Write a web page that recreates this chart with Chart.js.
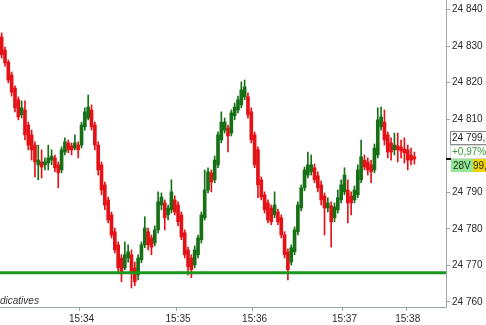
<!DOCTYPE html>
<html>
<head>
<meta charset="utf-8">
<script src="https://cdn.jsdelivr.net/npm/chart.js@4.4.0/dist/chart.umd.min.js"></script>
<style>
  html, body { margin: 0; padding: 0; background: #fff; }
  #wrap { width: 486px; height: 325px; }
</style>
</head>
<body>
<div id="wrap"><canvas id="candleChart" width="486" height="325"></canvas></div>
<script>
// Bougies (open, high, low, close)
const openP = [
  24832.5, 24828.9, 24825.6, 24822.1, 24818.5, 24815.3, 24811.2, 24812.5, 24808.4, 24805.7,
  24802.9, 24797.5, 24798.3, 24797.5, 24798.0, 24798.8, 24799.4, 24797.5, 24796.1, 24801.0,
  24803.5, 24802.7, 24802.1, 24802.9, 24802.9, 24807.9, 24810.3, 24812.5, 24808.4, 24802.9,
  24797.5, 24792.0, 24787.9, 24783.8, 24779.2, 24775.6, 24772.0, 24769.3, 24772.0, 24772.9,
  24769.3, 24767.4, 24771.5, 24775.6, 24779.2, 24777.5, 24776.1, 24779.7, 24786.5, 24787.1,
  24783.8, 24785.2, 24787.9, 24786.5, 24783.8, 24778.9, 24774.2, 24772.0, 24770.1, 24772.9,
  24777.0, 24783.0, 24790.6, 24795.3, 24793.4, 24797.5, 24804.3, 24807.0, 24807.6, 24806.2,
  24810.9, 24812.5, 24813.9, 24816.1, 24816.1, 24812.0, 24805.7, 24801.6, 24793.4, 24789.3,
  24787.1, 24785.7, 24783.8, 24784.6, 24783.0, 24778.3, 24773.7, 24770.9, 24773.7, 24779.2,
  24785.7, 24791.2, 24794.7, 24795.6, 24796.7, 24794.5, 24792.0, 24789.0, 24785.7, 24786.3,
  24783.0, 24785.2, 24787.9, 24790.1, 24790.6, 24789.0, 24787.9, 24789.3, 24793.4, 24798.8,
  24798.3, 24797.5, 24796.1, 24800.2, 24807.9, 24809.2, 24805.7, 24803.5, 24801.6, 24802.7,
  24802.4, 24801.8, 24801.6, 24800.2, 24799.7
];
const highP = [
  24833.6, 24829.7, 24826.2, 24822.9, 24819.1, 24816.1, 24815.0, 24815.0, 24809.2, 24807.0,
  24803.8, 24802.9, 24801.6, 24799.4, 24802.9, 24801.6, 24800.2, 24798.3, 24802.4, 24804.9,
  24804.3, 24803.5, 24805.7, 24803.8, 24809.2, 24813.1, 24816.6, 24813.9, 24809.2, 24803.8,
  24798.3, 24792.8, 24788.7, 24784.6, 24780.2, 24776.4, 24772.9, 24776.4, 24775.6, 24774.2,
  24770.9, 24772.9, 24776.4, 24783.3, 24780.2, 24778.3, 24780.8, 24790.1, 24789.8, 24787.9,
  24786.5, 24793.4, 24789.0, 24787.4, 24784.6, 24779.7, 24775.0, 24772.9, 24775.3, 24778.3,
  24784.6, 24796.1, 24796.7, 24796.1, 24799.9, 24806.5, 24812.0, 24810.3, 24808.4, 24812.5,
  24814.4, 24816.3, 24820.2, 24820.7, 24817.2, 24813.1, 24806.5, 24802.4, 24794.2, 24790.1,
  24787.9, 24786.5, 24790.1, 24785.4, 24783.8, 24779.2, 24774.5, 24775.6, 24780.5, 24787.4,
  24792.0, 24796.9, 24801.0, 24800.2, 24797.7, 24795.6, 24793.1, 24789.8, 24788.5, 24787.4,
  24787.1, 24790.6, 24793.4, 24796.7, 24793.4, 24790.1, 24791.7, 24797.5, 24804.3, 24800.2,
  24799.4, 24798.8, 24803.2, 24813.1, 24813.3, 24812.5, 24806.5, 24804.9, 24806.2, 24806.2,
  24804.3, 24804.9, 24802.9, 24802.1, 24801.0
];
const lowP = [
  24826.7, 24824.5, 24819.9, 24816.3, 24812.0, 24809.8, 24810.3, 24804.3, 24801.6, 24798.8,
  24794.2, 24793.4, 24793.9, 24796.1, 24796.1, 24797.5, 24795.6, 24791.2, 24795.3, 24800.2,
  24800.8, 24800.2, 24801.6, 24799.4, 24802.1, 24807.0, 24809.8, 24807.0, 24801.6, 24794.7,
  24789.3, 24785.2, 24781.6, 24777.5, 24773.4, 24768.2, 24765.5, 24768.8, 24770.9, 24763.8,
  24764.4, 24766.0, 24770.7, 24774.8, 24774.2, 24772.9, 24775.3, 24778.9, 24785.2, 24779.7,
  24782.4, 24784.3, 24783.8, 24780.8, 24777.0, 24772.0, 24767.4, 24766.6, 24769.3, 24772.0,
  24776.1, 24782.4, 24789.8, 24790.1, 24792.6, 24796.7, 24803.5, 24806.2, 24801.0, 24805.4,
  24809.8, 24811.7, 24813.1, 24815.3, 24810.3, 24803.5, 24796.7, 24788.5, 24787.9, 24784.3,
  24781.6, 24781.1, 24783.0, 24781.1, 24777.5, 24772.0, 24766.0, 24770.1, 24772.9, 24778.3,
  24784.9, 24790.4, 24793.9, 24794.7, 24792.6, 24790.1, 24786.5, 24778.3, 24784.6, 24775.0,
  24781.9, 24784.3, 24787.1, 24789.3, 24781.6, 24783.8, 24787.1, 24788.5, 24792.6, 24796.1,
  24794.7, 24792.6, 24795.3, 24799.4, 24807.0, 24802.9, 24799.4, 24798.8, 24800.2, 24798.3,
  24799.4, 24798.0, 24796.1, 24797.5, 24797.7
];
const closeP = [
  24827.6, 24825.4, 24820.7, 24817.4, 24813.1, 24810.6, 24813.1, 24805.7, 24802.9, 24801.6,
  24798.3, 24798.8, 24796.9, 24798.3, 24799.4, 24799.9, 24796.7, 24795.3, 24801.6, 24803.8,
  24801.6, 24801.6, 24803.5, 24801.6, 24808.4, 24812.0, 24813.3, 24807.9, 24802.9, 24796.1,
  24790.6, 24786.5, 24782.4, 24778.3, 24774.2, 24769.3, 24768.2, 24772.9, 24773.7, 24768.2,
  24765.5, 24772.0, 24775.6, 24780.2, 24775.6, 24775.0, 24779.7, 24787.4, 24788.7, 24783.0,
  24785.7, 24790.1, 24784.6, 24781.9, 24777.8, 24772.9, 24769.6, 24768.8, 24774.2, 24777.5,
  24783.8, 24790.6, 24795.6, 24792.8, 24798.8, 24805.7, 24809.2, 24809.2, 24805.4, 24811.7,
  24813.3, 24815.3, 24818.0, 24818.8, 24811.2, 24804.3, 24797.5, 24792.0, 24788.7, 24785.2,
  24782.4, 24781.9, 24786.5, 24781.9, 24778.3, 24772.9, 24768.8, 24774.8, 24779.7, 24786.5,
  24791.2, 24796.1, 24797.5, 24797.5, 24793.4, 24791.2, 24787.9, 24785.7, 24787.1, 24781.9,
  24786.0, 24788.5, 24792.0, 24794.7, 24787.1, 24787.1, 24790.6, 24796.1, 24799.7, 24796.9,
  24796.1, 24795.6, 24802.1, 24809.8, 24810.6, 24804.3, 24801.0, 24801.0, 24802.9, 24801.6,
  24801.3, 24800.8, 24798.8, 24798.8, 24799.1
];

// Axe du temps : positions des libellés (index de barre) et textes
const tickIndex = [24, 53, 76, 103, 122];
const tickText = ['15:34', '15:35', '15:36', '15:37', '15:38'];
const emptySlots = 9; // place vide à droite de la dernière bougie
// 24 800 est caché derrière les étiquettes du dernier cours
const yTicks = [24760, 24770, 24780, 24790, 24810, 24820, 24830, 24840];
const supportLevel = 24768;
const lastInfo = ['24 799,', '+0,97%', '28V', '99,'];

const UP = 'rgb(22,112,22)';
const DOWN = 'rgb(228,18,22)';
const AXIS = '#9aa6ae';

const slotCount = closeP.length + emptySlots;
const labels = [];
for (let i = 0; i < slotCount; i++) {
    const k = tickIndex.indexOf(i);
    labels.push(k >= 0 ? tickText[k] : '');
}

function barColor(c) {
    const i = c.dataIndex;
    return closeP[i] >= openP[i] ? UP : DOWN;
}

function spaced(v) {
    return String(v).replace(/\B(?=(\d{3})+(?!\d))/g, ' ');
}

// Ligne horizontale verte (support)
const supportLine = {
    id: 'supportLine',
    afterDatasetsDraw(chart) {
        const { ctx, chartArea, scales } = chart;
        const y = scales.y.getPixelForValue(supportLevel);
        ctx.save();
        ctx.strokeStyle = 'rgb(28,150,28)';
        ctx.lineWidth = 3;
        ctx.beginPath();
        ctx.moveTo(chartArea.left, y);
        ctx.lineTo(chartArea.right, y);
        ctx.stroke();
        ctx.restore();
    }
};

// Etiquettes à droite + "Indicatives"
const sideLabels = {
    id: 'sideLabels',
    afterDraw(chart) {
        const { ctx, chartArea, scales } = chart;
        const last = closeP[closeP.length - 1];
        const yl = Math.round(scales.y.getPixelForValue(last));
        const x0 = chartArea.right + 5;
        ctx.save();
        ctx.font = '10px "Liberation Sans", Arial, sans-serif';
        ctx.textBaseline = 'middle';
        ctx.textAlign = 'left';

        // prix
        ctx.fillStyle = '#fff';
        ctx.fillRect(x0 - 0.5, yl - 27.5, 45, 13);
        ctx.strokeStyle = '#8c8c8c';
        ctx.lineWidth = 1;
        ctx.strokeRect(x0 - 0.5, yl - 27.5, 45, 13);
        ctx.fillStyle = '#222';
        ctx.fillText(lastInfo[0], x0 + 1, yl - 21);

        // variation
        ctx.strokeStyle = '#d8d8d8';
        ctx.strokeRect(x0 - 0.5, yl - 13.5, 45, 13);
        ctx.fillStyle = '#3a9a3a';
        ctx.fillText(lastInfo[1], x0 + 1, yl - 7);

        // volume / quantité
        ctx.fillStyle = '#93e693';
        ctx.fillRect(x0, yl, 22, 13);
        ctx.fillStyle = '#f2d200';
        ctx.fillRect(x0 + 22, yl, 30, 13);
        ctx.fillStyle = '#1c2a1c';
        ctx.fillText(lastInfo[2], x0 + 2, yl + 7);
        ctx.fillText(lastInfo[3], x0 + 22, yl + 7);

        // repère du dernier cours
        ctx.fillStyle = '#111';
        ctx.fillRect(chartArea.right, yl - 1, 5, 2);

        ctx.font = 'italic 10px "Liberation Sans", Arial, sans-serif';
        ctx.fillStyle = '#333';
        ctx.fillText('dicatives', 0, chartArea.bottom - 6);
        ctx.restore();
    }
};

Chart.defaults.font.family = '"Liberation Sans", Arial, sans-serif';
Chart.defaults.font.size = 10;
Chart.defaults.color = '#2a2a2a';

const ctx = document.getElementById('candleChart').getContext('2d');
const chart = new Chart(ctx, {
    type: 'bar',
    data: {
        labels: labels,
        datasets: [{
            label: 'mèches',
            data: lowP.map((l, i) => [l, highP[i]]),
            backgroundColor: barColor,
            barThickness: 1,
            grouped: false,
            borderWidth: 0,
            order: 2
        }, {
            label: 'corps',
            data: openP.map((o, i) => [o, closeP[i]]),
            backgroundColor: barColor,
            barThickness: 3,
            minBarLength: 1,
            grouped: false,
            borderWidth: 0,
            order: 1
        }]
    },
    options: {
        responsive: false,
        devicePixelRatio: 1,
        animation: false,
        layout: { padding: 0 },
        plugins: {
            legend: { display: false },
            tooltip: { enabled: false }
        },
        scales: {
            x: {
                type: 'category',
                offset: true,
                border: { display: true, color: AXIS, width: 1 },
                grid: {
                    drawOnChartArea: false,
                    drawTicks: true,
                    tickLength: 4,
                    tickColor: c => (labels[c.index] ? AXIS : 'rgba(0,0,0,0)')
                },
                ticks: {
                    autoSkip: false,
                    maxRotation: 0,
                    padding: 2,
                    callback: (v, i) => labels[i]
                },
                afterFit: s => {
                    s.height = 18;
                    s.paddingLeft = 0;
                    s.paddingRight = 0;
                }
            },
            y: {
                position: 'right',
                min: 24758.6,
                max: 24842.6,
                border: { display: true, color: AXIS, width: 1 },
                grid: {
                    drawOnChartArea: false,
                    tickLength: 4,
                    tickColor: AXIS
                },
                afterBuildTicks: s => { s.ticks = yTicks.map(v => ({ value: v })); },
                ticks: {
                    padding: 2,
                    callback: v => spaced(v)
                },
                afterFit: s => {
                    s.width = 40;
                    s.paddingTop = 0;
                    s.paddingBottom = 0;
                }
            }
        }
    },
    plugins: [supportLine, sideLabels]
});
</script>
</body>
</html>
